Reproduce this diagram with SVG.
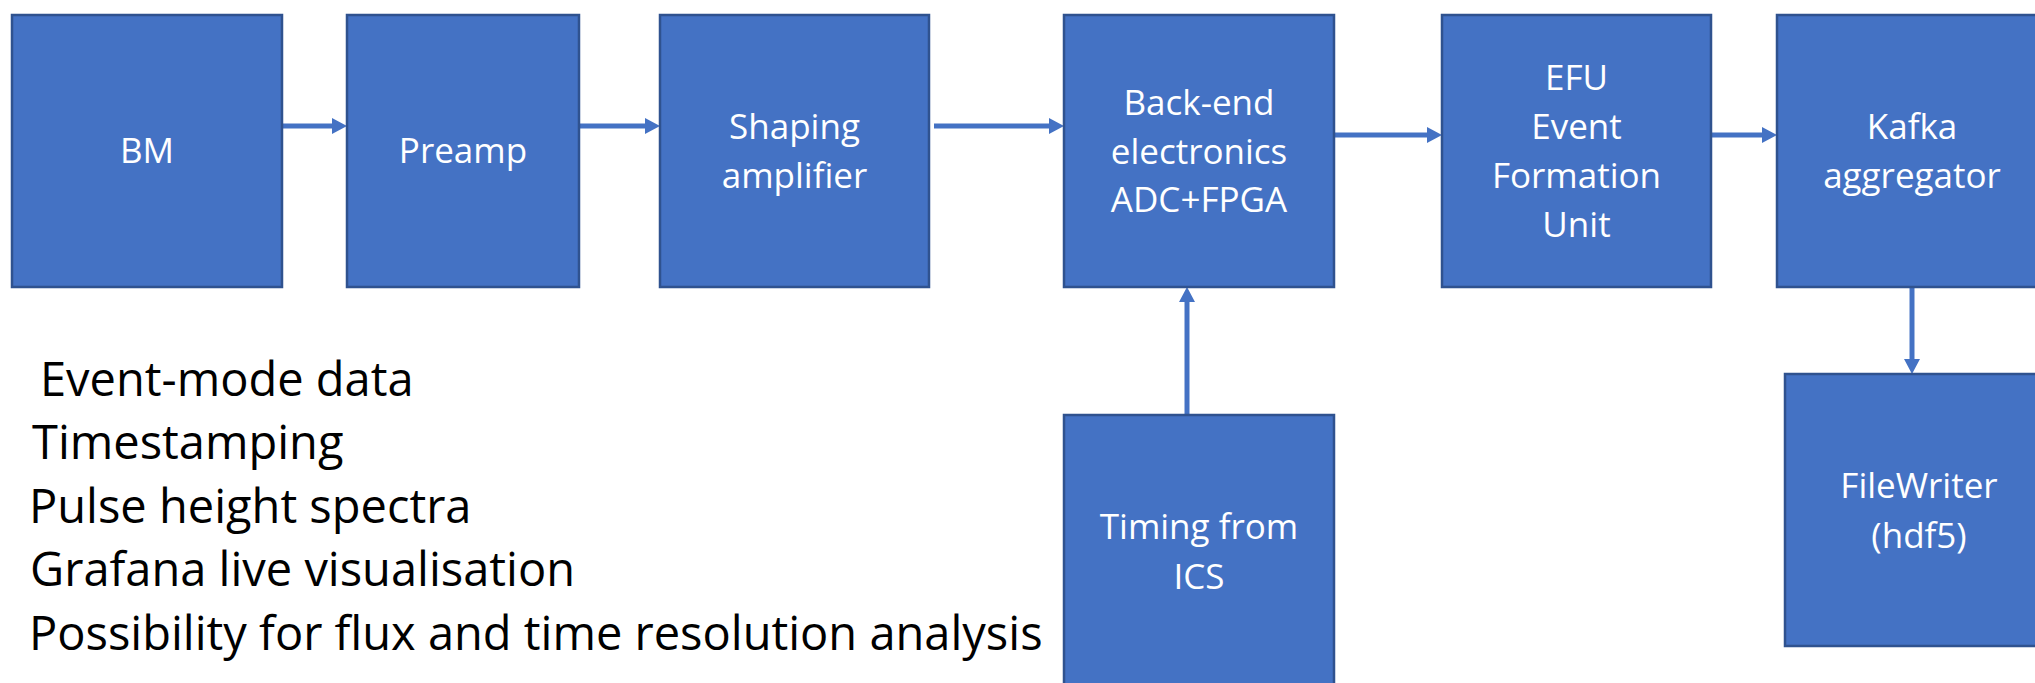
<svg xmlns="http://www.w3.org/2000/svg" width="2035" height="683" viewBox="0 0 2035 683">
<style>
.box{fill:#4472C4;stroke:#2F528F;stroke-width:2.5}
.lbl{font-family:"Open Sans","Liberation Sans",sans-serif;font-size:35px;fill:#FFFFFF;text-anchor:middle}
.note{font-family:"Open Sans","Liberation Sans",sans-serif;font-size:47px;fill:#000000}
.conn{stroke:#4472C4;stroke-width:5;fill:none}
.head{fill:#4472C4}
</style>
<rect width="2035" height="683" fill="#FFFFFF"/>
<g id="connectors">
  <line class="conn" x1="282" y1="126" x2="333" y2="126"/>
  <polygon class="head" points="332,118 347,126 332,134"/>
  <line class="conn" x1="579" y1="126" x2="646" y2="126"/>
  <polygon class="head" points="645,118 660,126 645,134"/>
  <line class="conn" x1="934" y1="126" x2="1050" y2="126"/>
  <polygon class="head" points="1049,118 1064,126 1049,134"/>
  <line class="conn" x1="1334" y1="135" x2="1428" y2="135"/>
  <polygon class="head" points="1427,127 1442,135 1427,143"/>
  <line class="conn" x1="1711" y1="135" x2="1763" y2="135"/>
  <polygon class="head" points="1762,127 1777,135 1762,143"/>
  <line class="conn" x1="1912" y1="287" x2="1912" y2="360"/>
  <polygon class="head" points="1904,359 1912,374 1920,359"/>
  <line class="conn" x1="1187" y1="415" x2="1187" y2="301"/>
  <polygon class="head" points="1179,302 1187,287 1195,302"/>
</g>
<g id="bm">
  <rect class="box" x="12" y="15" width="270" height="272"/>
  <text class="lbl" x="147" y="163">BM</text>
</g>
<g id="preamp">
  <rect class="box" x="347" y="15" width="232" height="272"/>
  <text class="lbl" x="463" y="163">Preamp</text>
</g>
<g id="shaping">
  <rect class="box" x="660" y="15" width="269" height="272"/>
  <text class="lbl" x="794.5" y="139">Shaping</text>
  <text class="lbl" x="794.5" y="188">amplifier</text>
</g>
<g id="backend">
  <rect class="box" x="1064" y="15" width="270" height="272"/>
  <text class="lbl" x="1199" y="115">Back-end</text>
  <text class="lbl" x="1199" y="164">electronics</text>
  <text class="lbl" x="1199" y="212">ADC+FPGA</text>
</g>
<g id="efu">
  <rect class="box" x="1442" y="15" width="269" height="272"/>
  <text class="lbl" x="1576.5" y="90">EFU</text>
  <text class="lbl" x="1576.5" y="139">Event</text>
  <text class="lbl" x="1576.5" y="188">Formation</text>
  <text class="lbl" x="1576.5" y="237">Unit</text>
</g>
<g id="kafka">
  <rect class="box" x="1777" y="15" width="270" height="272"/>
  <text class="lbl" x="1912" y="139">Kafka</text>
  <text class="lbl" x="1912" y="188">aggregator</text>
</g>
<g id="timing">
  <rect class="box" x="1064" y="415" width="270" height="272"/>
  <text class="lbl" x="1199" y="539">Timing from</text>
  <text class="lbl" x="1199" y="589">ICS</text>
</g>
<g id="filewriter">
  <rect class="box" x="1785" y="374" width="268" height="272"/>
  <text class="lbl" x="1919" y="498">FileWriter</text>
  <text class="lbl" x="1919" y="548">(hdf5)</text>
</g>
<g id="notes">
  <text class="note" x="40" y="396">Event-mode data</text>
  <text class="note" x="32" y="459">Timestamping</text>
  <text class="note" x="29" y="523">Pulse height spectra</text>
  <text class="note" x="30" y="586">Grafana live visualisation</text>
  <text class="note" x="29" y="650">Possibility for flux and time resolution analysis</text>
</g>
</svg>
